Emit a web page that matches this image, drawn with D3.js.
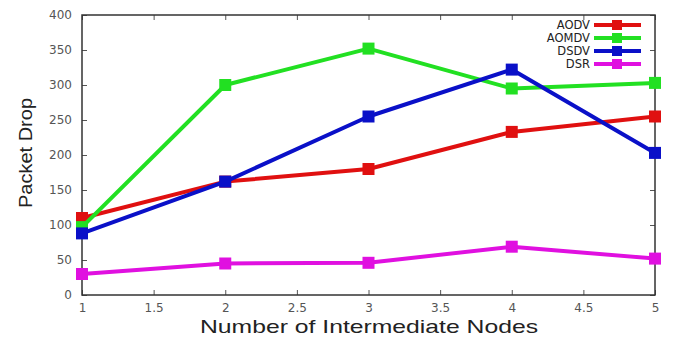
<!DOCTYPE html>
<html lang="en">
<head>
<meta charset="UTF-8">
<title>Packet Drop</title>
<style>
    body { margin: 0; background: #fff; }
    text { font-family: "DejaVu Sans", sans-serif; }
    .tick text { fill: #555; font-size: 12px; }
    .frame { fill: none; stroke: #333; stroke-width: 1.5px; }
    .title { font-family: "Liberation Sans", Arial, sans-serif; fill: #222; }
</style>
</head>
<body>
<svg id="svg" width="683" height="340"></svg>
<script src="https://d3js.org/d3.v7.min.js"></script>
<script>
    // data
    const nodes = [1, 2, 3, 4, 5];
    const aodv  = [110, 162, 180, 233, 255];
    const aomdv = [97, 300, 352, 295, 303];
    const dsdv  = [88, 162, 255, 322, 203];
    const dsr   = [30, 45, 46, 69, 52];

    const seriesNames = ["AODV", "AOMDV", "DSDV", "DSR"];
    const seriesColors = ["#e01010", "#22e022", "#0a10c8", "#e010e0"];
    const seriesValues = [aodv, aomdv, dsdv, dsr];

    const xTicks = [1, 1.5, 2, 2.5, 3, 3.5, 4, 4.5, 5];
    const yTicks = [0, 50, 100, 150, 200, 250, 300, 350, 400];

    const svg = d3.select("svg");
    const m = { left: 82, right: 655, top: 15, bottom: 295 };

    const x = d3.scaleLinear().domain([1, 5]).range([m.left, m.right]);
    const y = d3.scaleLinear().domain([0, 400]).range([m.bottom, m.top]);

    // axes, gnuplot style: ticks pointing inwards, mirrored on top and right
    svg.append("g").attr("transform", "translate(0," + m.bottom + ")")
        .call(d3.axisBottom(x).tickValues(xTicks).tickSizeInner(-5).tickSizeOuter(0).tickPadding(8)
            .tickFormat(d3.format("")));
    svg.append("g").attr("transform", "translate(" + m.left + ",0)")
        .call(d3.axisLeft(y).tickValues(yTicks).tickSizeInner(-5).tickSizeOuter(0).tickPadding(10));
    svg.append("g").attr("transform", "translate(0," + m.top + ")")
        .call(d3.axisTop(x).tickValues(xTicks).tickSizeInner(-5).tickSizeOuter(0).tickFormat(""));
    svg.append("g").attr("transform", "translate(" + m.right + ",0)")
        .call(d3.axisRight(y).tickValues(yTicks).tickSizeInner(-5).tickSizeOuter(0).tickFormat(""));

    svg.selectAll(".domain").remove();
    svg.selectAll(".tick line").attr("stroke", "#555");

    svg.append("rect").attr("class", "frame")
        .attr("x", m.left).attr("y", m.top)
        .attr("width", m.right - m.left).attr("height", m.bottom - m.top);

    const line = d3.line()
        .x(function(d, i) { return x(nodes[i]); })
        .y(function(d) { return y(d); });

    seriesValues.forEach(function(vals, s) {
        const g = svg.append("g");
        g.append("path")
            .datum(vals)
            .attr("d", line)
            .attr("fill", "none")
            .attr("stroke", seriesColors[s])
            .attr("stroke-width", 4)
            .attr("stroke-linejoin", "round");
        g.selectAll("rect")
            .data(vals)
            .enter().append("rect")
            .attr("x", function(d, i) { return x(nodes[i]) - 6; })
            .attr("y", function(d) { return y(d) - 6; })
            .attr("width", 12)
            .attr("height", 12)
            .attr("fill", seriesColors[s]);
    });

    // legend
    const legend = svg.append("g");
    seriesNames.forEach(function(name, i) {
        const ly = 25 + i * 13;
        legend.append("text")
            .attr("x", 590).attr("y", ly).attr("dy", "0.35em")
            .attr("text-anchor", "end")
            .style("font-size", "11.5px").style("fill", "#222")
            .text(name);
        legend.append("line")
            .attr("x1", 594).attr("x2", 641).attr("y1", ly).attr("y2", ly)
            .attr("stroke", seriesColors[i]).attr("stroke-width", 4);
        legend.append("rect")
            .attr("x", 612).attr("y", ly - 5).attr("width", 10).attr("height", 10)
            .attr("fill", seriesColors[i]);
    });

    // axis titles
    svg.append("text")
        .attr("class", "title")
        .attr("x", 200).attr("y", 333)
        .attr("textLength", 338).attr("lengthAdjust", "spacingAndGlyphs")
        .style("font-size", "19px")
        .text("Number of Intermediate Nodes");
    svg.append("text")
        .attr("class", "title")
        .attr("transform", "translate(32,208) rotate(-90)")
        .attr("textLength", 110).attr("lengthAdjust", "spacingAndGlyphs")
        .style("font-size", "19px")
        .text("Packet Drop");
</script>
</body>
</html>
